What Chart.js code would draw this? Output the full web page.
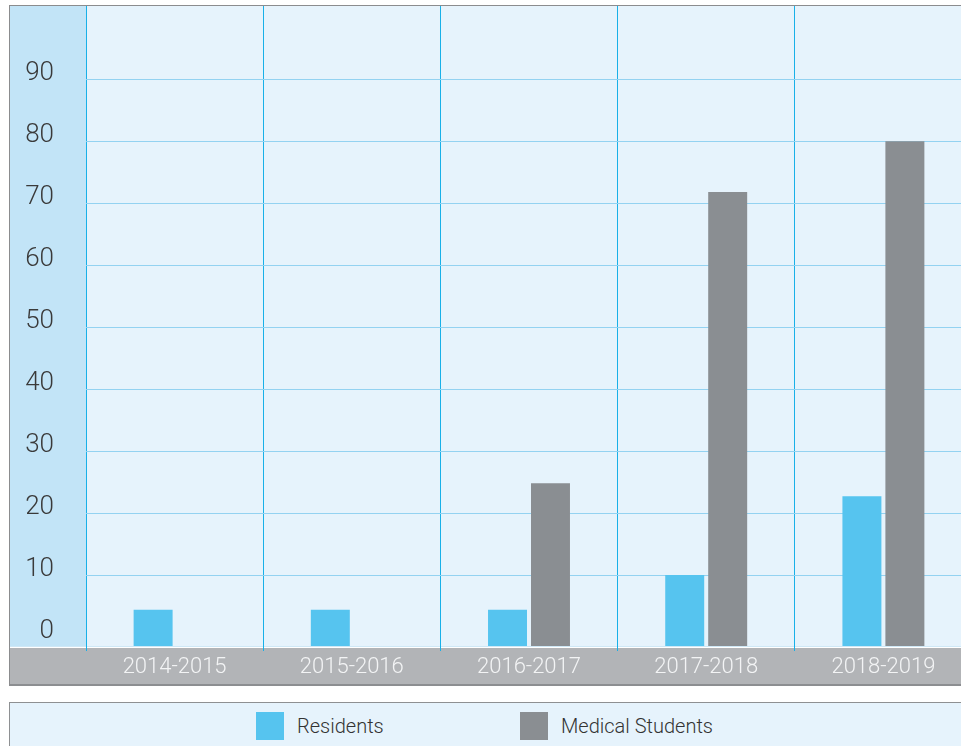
<!DOCTYPE html>
<html>
<head>
<meta charset="utf-8">
<script src="https://cdn.jsdelivr.net/npm/chart.js@4.4.1/dist/chart.umd.min.js"></script>
<style>
  html, body { margin: 0; padding: 0; background: #fff; overflow: hidden; width: 961px; height: 746px; }
  .frame { position: absolute; left: 9px; top: 5px; width: 1000px; height: 680px; border-left: 1px solid #8b8c8e; border-top: 1px solid #8b8c8e; }
  .chart-wrap { position: absolute; left: 10px; top: 6px; width: 962px; height: 680px; }
  .legend-box { position: absolute; left: 9px; top: 702px; width: 1000px; height: 60px; background: #e6f3fc; border-left: 1px solid #8e9092; border-top: 1px solid #8e9092; }
  .legend-item { position: absolute; top: 9px; height: 28px; display: flex; align-items: center; font-family: Roboto, 'Liberation Sans', sans-serif; font-weight: 300; font-size: 20px; color: #333; }
  .legend-item span.sw { display: inline-block; width: 28px; height: 28px; margin-right: 13px; }
  .legend-item:nth-child(1) { left: 246px; }
  .legend-item:nth-child(2) { left: 510px; }
</style>
</head>
<body>
<div class="frame"></div>
<div class="chart-wrap"><canvas id="chart" width="962" height="680"></canvas></div>
<div class="legend-box" id="legend"></div>

<script>
// Data
const CATEGORIES = ["2014-2015", "2015-2016", "2016-2017", "2017-2018", "2018-2019"];
const RESIDENTS = [4.4, 4.4, 4.4, 10, 22.7];
const MED_STUDENTS = [null, null, 24.8, 71.8, 80];
const Y_TICKS = [0, 10, 20, 30, 40, 50, 60, 70, 80, 90];
const Y_MIN = -1.45;
const Y_MAX = 101.8;

const FONT = "Roboto, 'Liberation Sans', sans-serif";

// paint the panel backgrounds (axis column, plot, bottom band)
const panelBg = {
  id: "panelBg",
  beforeDraw(chart) {
    const { ctx, chartArea: a, width, height } = chart;
    ctx.save();
    ctx.fillStyle = "#c2e4f7";
    ctx.fillRect(0, 0, a.left, a.bottom);
    ctx.fillStyle = "#e6f3fc";
    ctx.fillRect(a.left, 0, width - a.left, a.bottom);
    ctx.fillStyle = "#b2b4b7";
    ctx.fillRect(0, a.bottom, width, height - a.bottom);
    ctx.fillStyle = "#cfe8f6";
    ctx.fillRect(0, a.bottom, width, 1);
    ctx.fillStyle = "#ffffff";
    ctx.fillRect(0, a.bottom + 1, width, 1);
    ctx.fillStyle = "#8c8e91";
    ctx.fillRect(0, height - 2, width, 2);
    ctx.restore();
  }
};

const chart = new Chart(document.getElementById("chart").getContext("2d"), {
  type: "bar",
  data: {
    labels: CATEGORIES,
    datasets: [
      { label: "Residents", data: RESIDENTS, backgroundColor: "#56c4ef", base: Y_MIN },
      { label: "Medical Students", data: MED_STUDENTS, backgroundColor: "#8a8e92", base: Y_MIN }
    ]
  },
  options: {
    responsive: false,
    animation: false,
    categoryPercentage: 0.485,
    barPercentage: 0.907,
    layout: { padding: 0 },
    plugins: { legend: { display: false }, tooltip: { enabled: false } },
    scales: {
      x: {
        offset: true,
        border: { display: false },
        grid: { offset: true, color: "#18b0e8", lineWidth: 1, drawTicks: true, tickLength: 5, tickColor: "#18b0e8" },
        ticks: { color: "#f3f4f5", font: { family: FONT, size: 22, weight: "300" }, padding: 3, maxRotation: 0 },
        afterFit(scale) { scale.height = 40; scale.paddingLeft = 0; scale.paddingRight = 0; }
      },
      y: {
        min: Y_MIN,
        max: Y_MAX,
        border: { display: false },
        afterBuildTicks(scale) { scale.ticks = Y_TICKS.map(v => ({ value: v })); },
        grid: {
          drawTicks: false,
          lineWidth: 1,
          color: ctx => (ctx.tick && ctx.tick.value === 0) ? "rgba(0,0,0,0)" : "#93d2f1"
        },
        ticks: { color: "#3a3a3a", font: { family: FONT, size: 26, weight: "300" }, padding: 32, labelOffset: -6 },
        afterFit(scale) { scale.width = 76; scale.paddingTop = 0; scale.paddingBottom = 0; }
      }
    }
  },
  plugins: [panelBg]
});

// HTML legend built from the datasets
const legendEl = document.getElementById("legend");
chart.data.datasets.forEach(ds => {
  const item = document.createElement("div");
  item.className = "legend-item";
  const sw = document.createElement("span");
  sw.className = "sw";
  sw.style.background = ds.backgroundColor;
  item.appendChild(sw);
  item.appendChild(document.createTextNode(ds.label));
  legendEl.appendChild(item);
});
</script>
</body>
</html>
